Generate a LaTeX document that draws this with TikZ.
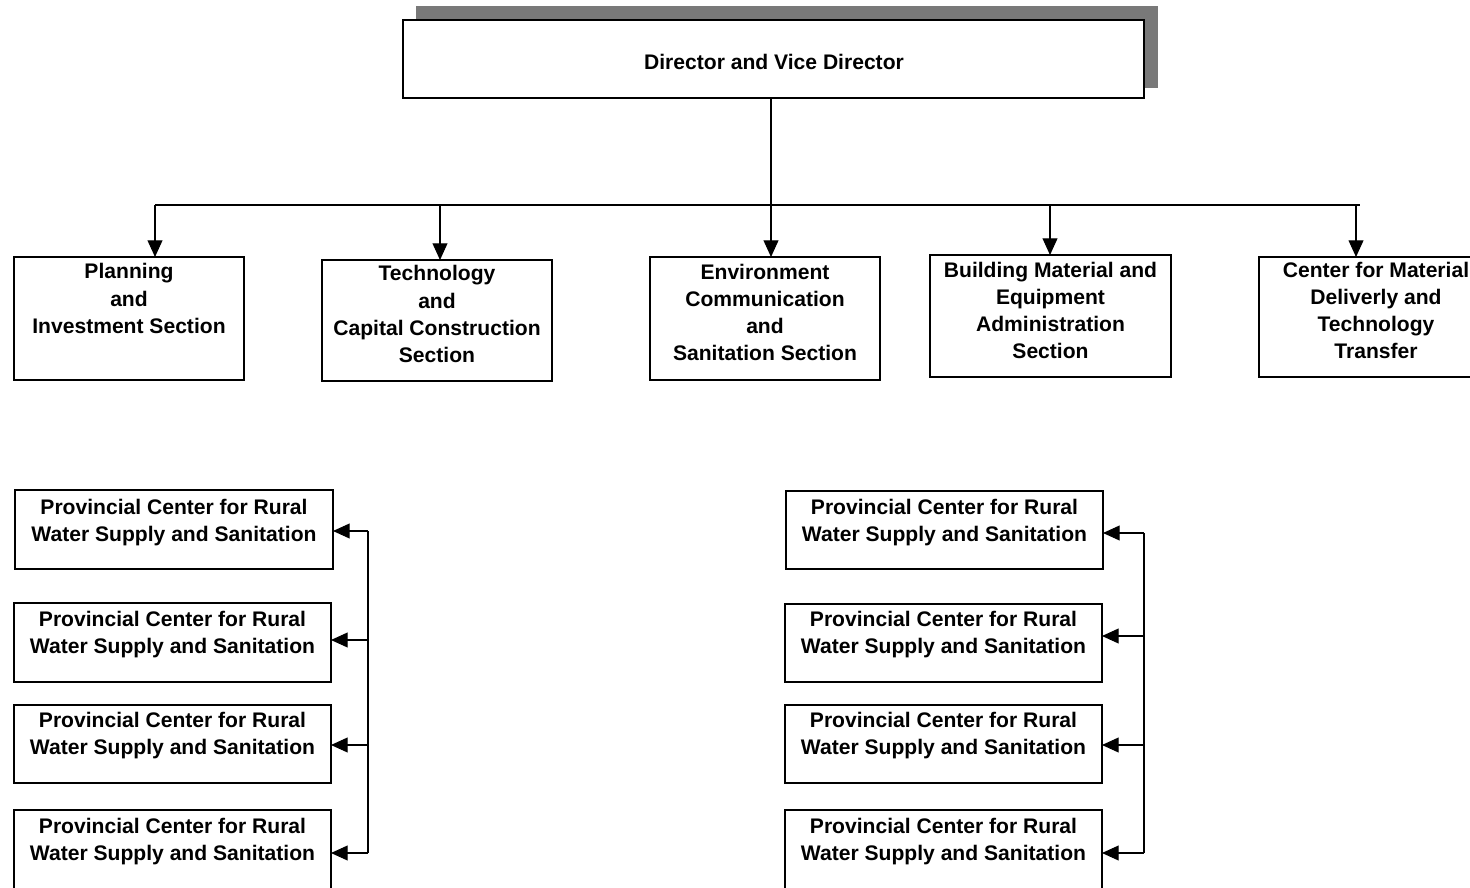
\documentclass[tikz,border=0pt]{standalone}
\usepackage{fontspec}
\setmainfont{Liberation Sans}
\usepackage{tikz}
\usetikzlibrary{arrows.meta}
\newdimen\unitpx
\unitpx=0.02cm
\tikzset{ orgbox/.style = {rectangle, draw, fill=white, line width=1.3pt, inner sep=0pt, outer sep=0pt} }
\tikzset{ orgtxt/.style = {align=center, inner sep=0pt, font=\fontsize{12}{15.4}\selectfont\bfseries} }
\tikzset{ link/.style = {line width=0.6pt} }
\tikzset{ arr/.style = {link, -{Triangle[length=9.5pt,width=8.5pt]}} }

\begin{document}
\begin{tikzpicture}[x=\unitpx, y=-\unitpx]
                        \useasboundingbox (0,0) rectangle (1470,888);
                        \clip (0,0) rectangle (1470,888);
                        % director
                        \fill[gray!95!black] (416,6) rectangle (1158,88);
                        \node[orgbox, minimum width=741\unitpx, minimum height=78\unitpx] (top) at (773.5,59) {};
                        \node[orgtxt] (topt) at (774,62) {Director and Vice Director};
                        % sections
                        \node[orgbox, minimum width=230\unitpx, minimum height=123\unitpx] (s1) at (129,318.5) {};
                        \node[orgtxt] (s1t) at (129,298.5) {Planning\\and\\Investment Section};
                        \node[orgbox, minimum width=230\unitpx, minimum height=121\unitpx] (s2) at (437,320.5) {};
                        \node[orgtxt] (s2t) at (437,314) {Technology\\and\\Capital Construction\\Section};
                        \node[orgbox, minimum width=230\unitpx, minimum height=123\unitpx] (s3) at (765,318.5) {};
                        \node[orgtxt] (s3t) at (765,312.5) {Environment\\Communication\\and\\Sanitation Section};
                        \node[orgbox, minimum width=241\unitpx, minimum height=122\unitpx] (s4) at (1050.5,316) {};
                        \node[orgtxt] (s4t) at (1050.5,310.5) {Building Material and\\Equipment\\Administration\\Section};
                        \node[orgbox, minimum width=231\unitpx, minimum height=120\unitpx] (s5) at (1374.5,317) {};
                        \node[orgtxt] (s5t) at (1376,310.5) {Center for Material\\Deliverly and\\Technology\\Transfer};
                        % bus
                        \coordinate (b1) at (155,205);
                        \coordinate (b2) at (440,205);
                        \coordinate (b3) at (771,205);
                        \coordinate (b4) at (1050,205);
                        \coordinate (b5) at (1360,205);
                        \draw[link] (b3 |- top.south) to (b3);
                        \draw[link] (b1) to (b5);
                        \draw[arr] (b1) to (b1 |- s1.north);
                        \draw[arr] (b2) to (b2 |- s2.north);
                        \draw[arr] (b3) to (b3 |- s3.north);
                        \draw[arr] (b4) to (b4 |- s4.north);
                        \draw[arr] (1356,205) to (1356,257);
                        % provincial centers, left
                        \node[orgbox, minimum width=318\unitpx, minimum height=79\unitpx] (L1) at (174,529.5) {};
                        \node[orgtxt] (L1t) at (174,522.5) {Provincial Center for Rural\\Water Supply and Sanitation};
                        \node[orgbox, minimum width=317\unitpx, minimum height=79\unitpx] (L2) at (172.5,642.5) {};
                        \node[orgtxt] (L2t) at (172.5,635) {Provincial Center for Rural\\Water Supply and Sanitation};
                        \node[orgbox, minimum width=317\unitpx, minimum height=78\unitpx] (L3) at (172.5,744) {};
                        \node[orgtxt] (L3t) at (172.5,735.5) {Provincial Center for Rural\\Water Supply and Sanitation};
                        \node[orgbox, minimum width=317\unitpx, minimum height=79\unitpx] (L4) at (172.5,849.5) {};
                        \node[orgtxt] (L4t) at (172.5,841.5) {Provincial Center for Rural\\Water Supply and Sanitation};
                        % provincial centers, right
                        \node[orgbox, minimum width=317\unitpx, minimum height=78\unitpx] (R1) at (944.5,530) {};
                        \node[orgtxt] (R1t) at (944.5,522.5) {Provincial Center for Rural\\Water Supply and Sanitation};
                        \node[orgbox, minimum width=317\unitpx, minimum height=78\unitpx] (R2) at (943.5,643) {};
                        \node[orgtxt] (R2t) at (943.5,635) {Provincial Center for Rural\\Water Supply and Sanitation};
                        \node[orgbox, minimum width=317\unitpx, minimum height=78\unitpx] (R3) at (943.5,744) {};
                        \node[orgtxt] (R3t) at (943.5,735.5) {Provincial Center for Rural\\Water Supply and Sanitation};
                        \node[orgbox, minimum width=317\unitpx, minimum height=79\unitpx] (R4) at (943.5,849.5) {};
                        \node[orgtxt] (R4t) at (943.5,841.5) {Provincial Center for Rural\\Water Supply and Sanitation};
                        % brackets
                        \coordinate (l1) at (368,531);
                        \coordinate (l2) at (368,640);
                        \coordinate (l3) at (368,745);
                        \coordinate (l4) at (368,853);
                        \coordinate (r1) at (1144,533);
                        \coordinate (r2) at (1144,636);
                        \coordinate (r3) at (1144,745);
                        \coordinate (r4) at (1144,853);
                        \draw[link] (l1) to (l4);
                        \draw[link] (r1) to (r4);
                        \draw[arr] (l1) to (l1 -| L1.east);
                        \draw[arr] (l2) to (l2 -| L2.east);
                        \draw[arr] (l3) to (l3 -| L3.east);
                        \draw[arr] (l4) to (l4 -| L4.east);
                        \draw[arr] (r1) to (r1 -| R1.east);
                        \draw[arr] (r2) to (r2 -| R2.east);
                        \draw[arr] (r3) to (r3 -| R3.east);
                        \draw[arr] (r4) to (r4 -| R4.east);
                \end{tikzpicture}
\end{document}
